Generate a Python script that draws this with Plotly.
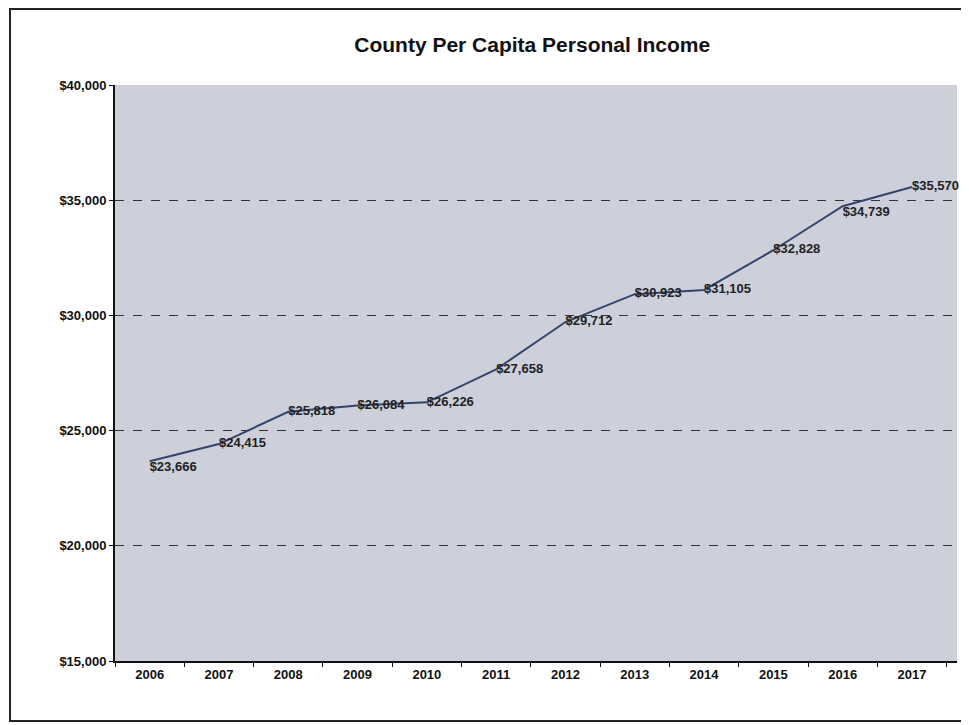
import plotly.graph_objects as go

# County per capita personal income, 2006-2017
years = ["2006", "2007", "2008", "2009", "2010", "2011",
         "2012", "2013", "2014", "2015", "2016", "2017"]
income = [23666, 24415, 25818, 26084, 26226, 27658,
          29712, 30923, 31105, 32828, 34739, 35570]
y_ticks = [15000, 20000, 25000, 30000, 35000, 40000]

FONT = "Liberation Sans, Arial, sans-serif"
LINE_COLOUR = "#34456a"
PLOT_BG = "#cdcfdb"

labels = ["${:,}".format(v) for v in income]
label_pos = ["bottom right"] + ["middle right"] * 9 + ["bottom right", "middle right"]

trace = go.Scatter(
    x=years,
    y=income,
    mode="lines+text",
    line=dict(color=LINE_COLOUR, width=2),
    text=labels,
    textposition=label_pos,
    textfont=dict(family=FONT, size=13, color="#222222", weight="bold"),
    cliponaxis=False,
    showlegend=False,
    hoverinfo="x+y",
)

# the page body has an 8px margin, so the layout is laid out 8px left/up
layout = go.Layout(
    width=969,
    height=725,
    paper_bgcolor="white",
    plot_bgcolor=PLOT_BG,
    margin=dict(l=107, r=20, t=77, b=72),
    title=dict(
        text="<b>County Per Capita Personal Income</b>",
        font=dict(family=FONT, size=21, color="#111111"),
        x=0.541,
        xanchor="center",
        y=1 - 37 / 725,
        yanchor="middle",
    ),
    font=dict(family=FONT),
)

fig = go.Figure(data=[trace], layout=layout)

fig.update_xaxes(
    type="category",
    range=[-0.5, 11.65],
    showline=True,
    linecolor="#111111",
    linewidth=2,
    ticks="outside",
    tickson="boundaries",
    ticklen=4,
    tickcolor="#111111",
    showgrid=False,
    tickfont=dict(family=FONT, size=13, color="#111111", weight="bold"),
)

fig.update_yaxes(
    range=[15000, 40000],
    tickvals=y_ticks,
    ticktext=["${:,}".format(v) for v in y_ticks],
    showline=True,
    linecolor="#111111",
    linewidth=2,
    ticks="outside",
    ticklen=4,
    tickcolor="#111111",
    showgrid=True,
    gridcolor="#333333",
    gridwidth=1,
    griddash="dash",
    zeroline=False,
    tickfont=dict(family=FONT, size=13, color="#111111", weight="bold"),
)

# scanned page frame around the chart
fig.add_shape(
    type="rect",
    xref="paper", yref="paper",
    x0=(2 - 107) / 842, x1=(957 - 107) / 842,
    y0=(653 - 713) / 576, y1=(653 - 1) / 576,
    line=dict(color="#222222", width=2),
    layer="below",
)

fig.write_html("out.html")
